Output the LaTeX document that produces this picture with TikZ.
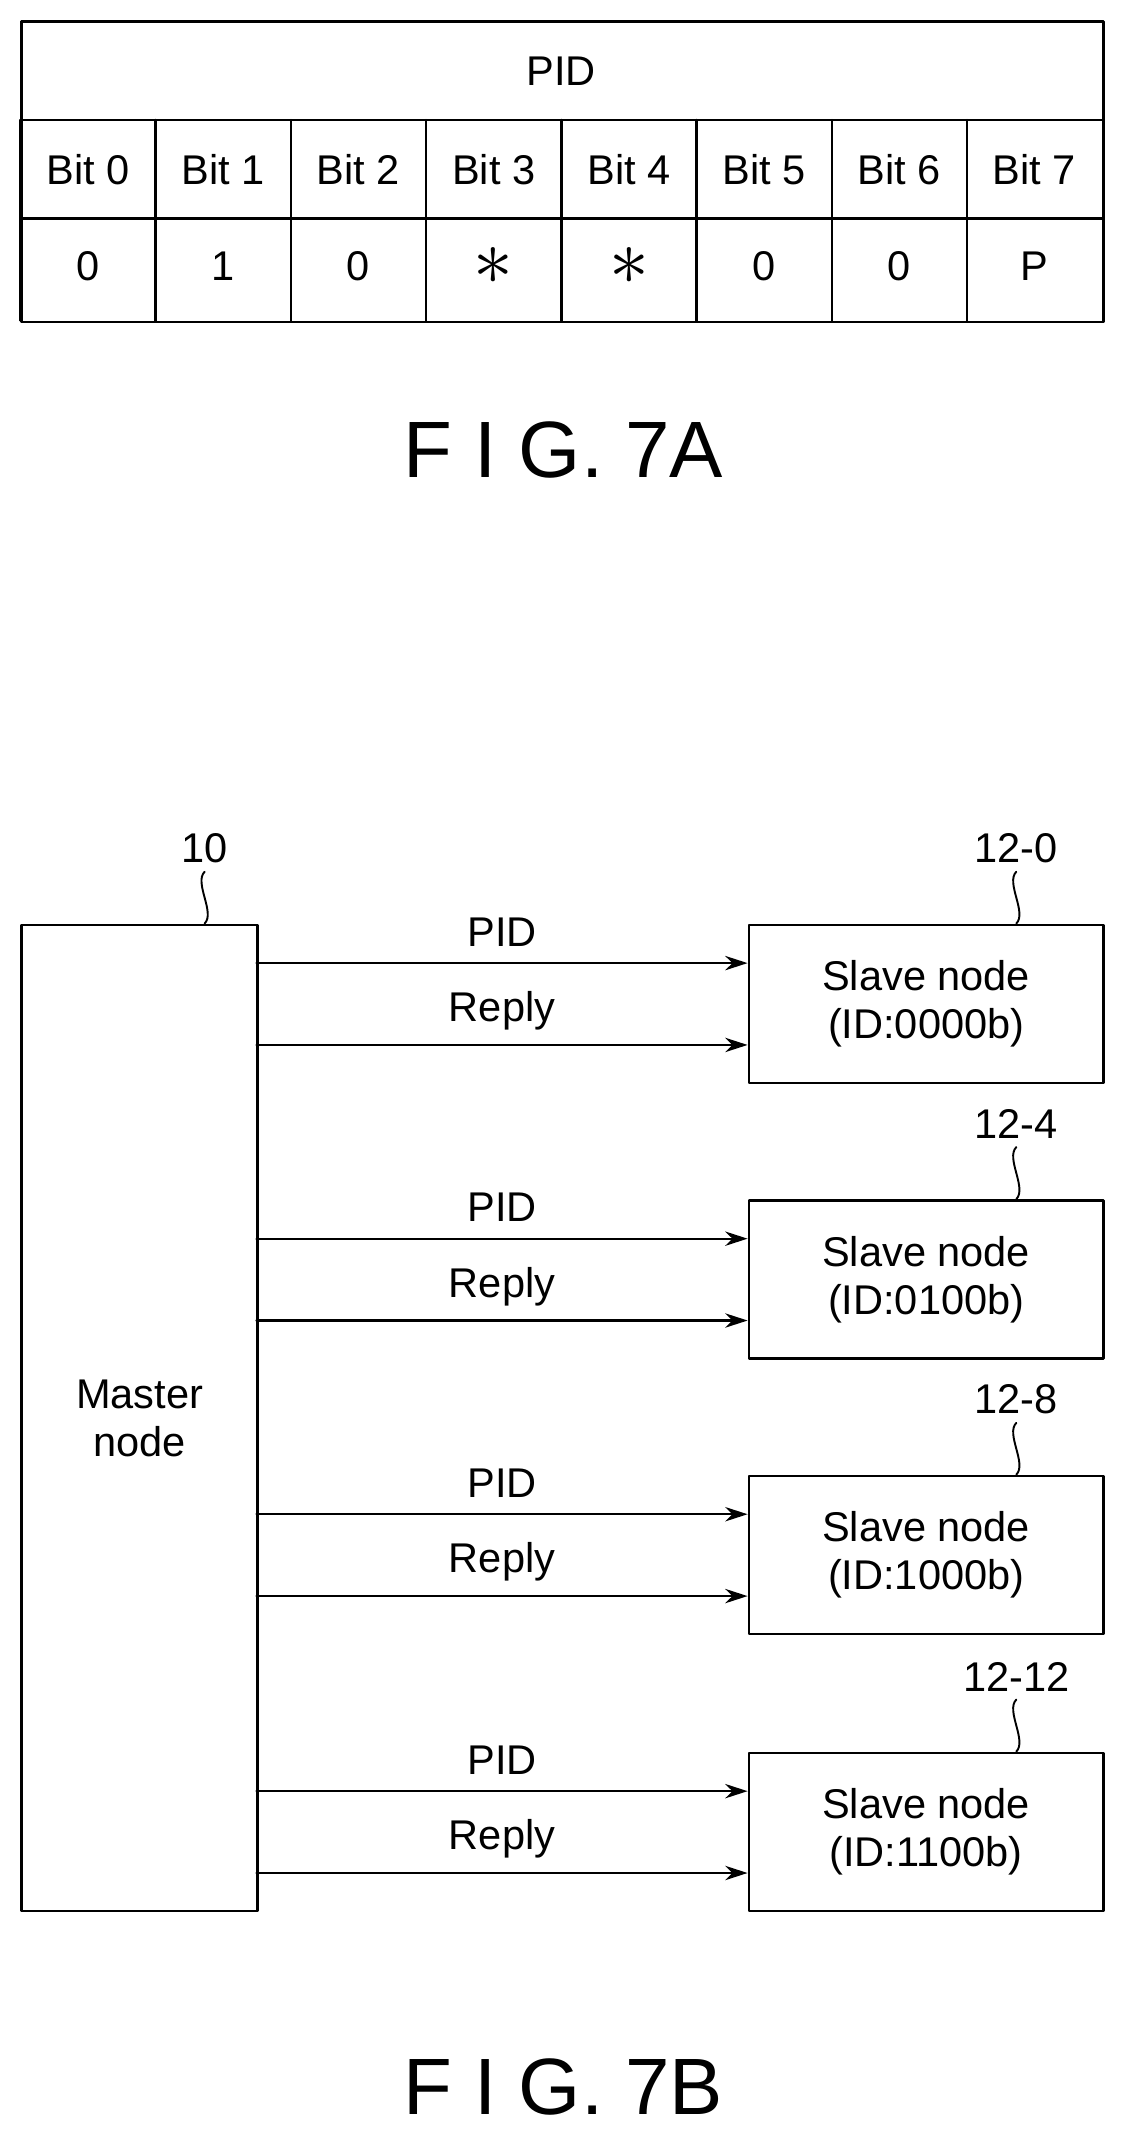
\documentclass[tikz,border=0pt]{standalone}
\usepackage{fontspec}
\setmainfont{Liberation Sans}
\usetikzlibrary{arrows.meta}
\tikzset{
  box/.style={draw,line width=1.6pt,inner sep=0pt,anchor=north west},
  txt/.style={font=\fontsize{26}{30}\selectfont,align=center,inner sep=0pt},
  fig/.style={font=\fontsize{50}{56}\selectfont,inner sep=0pt},
  sig/.style={line width=1.4pt,-{Stealth[length=14pt,width=9pt]}},
  tilde/.style={line width=1.2pt}
}
\newcommand{\bigstar}{\scalebox{2}{$\ast$}}
\begin{document}
\begin{tikzpicture}[line cap=round,line join=round,x=0.03cm,y=-0.03cm]
\useasboundingbox (0,0) rectangle (824,1568);

% FIG. 7A
\node[box,minimum width=793*0.03cm,minimum height=220*0.03cm] (tab) at (15,15) {};
\draw[line width=1.6pt] (15,88)-- (808,88);
\draw[line width=1.6pt] (15,160)-- (808,160);
\node[txt] (pid) at (411.5,52) {PID};
\foreach \i/\v in {0/0,1/1,2/0,3/\bigstar,4/\bigstar,5/0,6/0,7/P}{
  \draw[line width=1.6pt] ({15+99.125*\i},88)-- ({15+99.125*\i},235);
  \node[txt] (bit\i) at ({64.5+99.125*\i},124) {Bit \i};
  \node[txt] (val\i) at ({64.5+99.125*\i},195) {\v};
}
\node[fig] (figa) at (413,330) {F I G. 7A};

% FIG. 7B
\node[box,minimum width=173*0.03cm,minimum height=723*0.03cm] (master) at (15,677) {};
\node[txt] at (master.center) {Master\\node};
\node[txt] (lm) at (150,622) {10};
\draw[tilde] (lm.south) ++(0,6) .. controls +(-8,8) and +(8,-8) .. (150,677);
\foreach \n/\y/\lab/\id in {0/677/12-0/0000,1/879/12-4/0100,2/1081/12-8/1000,3/1284/12-12/1100}{
  \node[box,minimum width=260*0.03cm,minimum height=116*0.03cm] (slave\n) at (548,\y) {};
  \node[txt] (st\n) at (slave\n.center) {Slave node\\(ID:\id b)};
  \node[txt] (ls\n) at (745,\y-55) {\lab};
  \draw[tilde] (ls\n.south) ++(0,6) .. controls +(-8,8) and +(8,-8) .. (745,\y);
  \coordinate (p\n) at (188,\y+29);
  \coordinate (r\n) at (188,\y+89);
  \draw[sig] (p\n) -- (p\n -| slave\n.west);
  \draw[sig] (r\n) -- (r\n -| slave\n.west);
  \node[txt] (tp\n) at (368,\y+6) {PID};
  \node[txt] (tr\n) at (368,\y+64) {Reply};
}
\node[fig] (figb) at (413,1530) {F I G. 7B};
\end{tikzpicture}
\end{document}
